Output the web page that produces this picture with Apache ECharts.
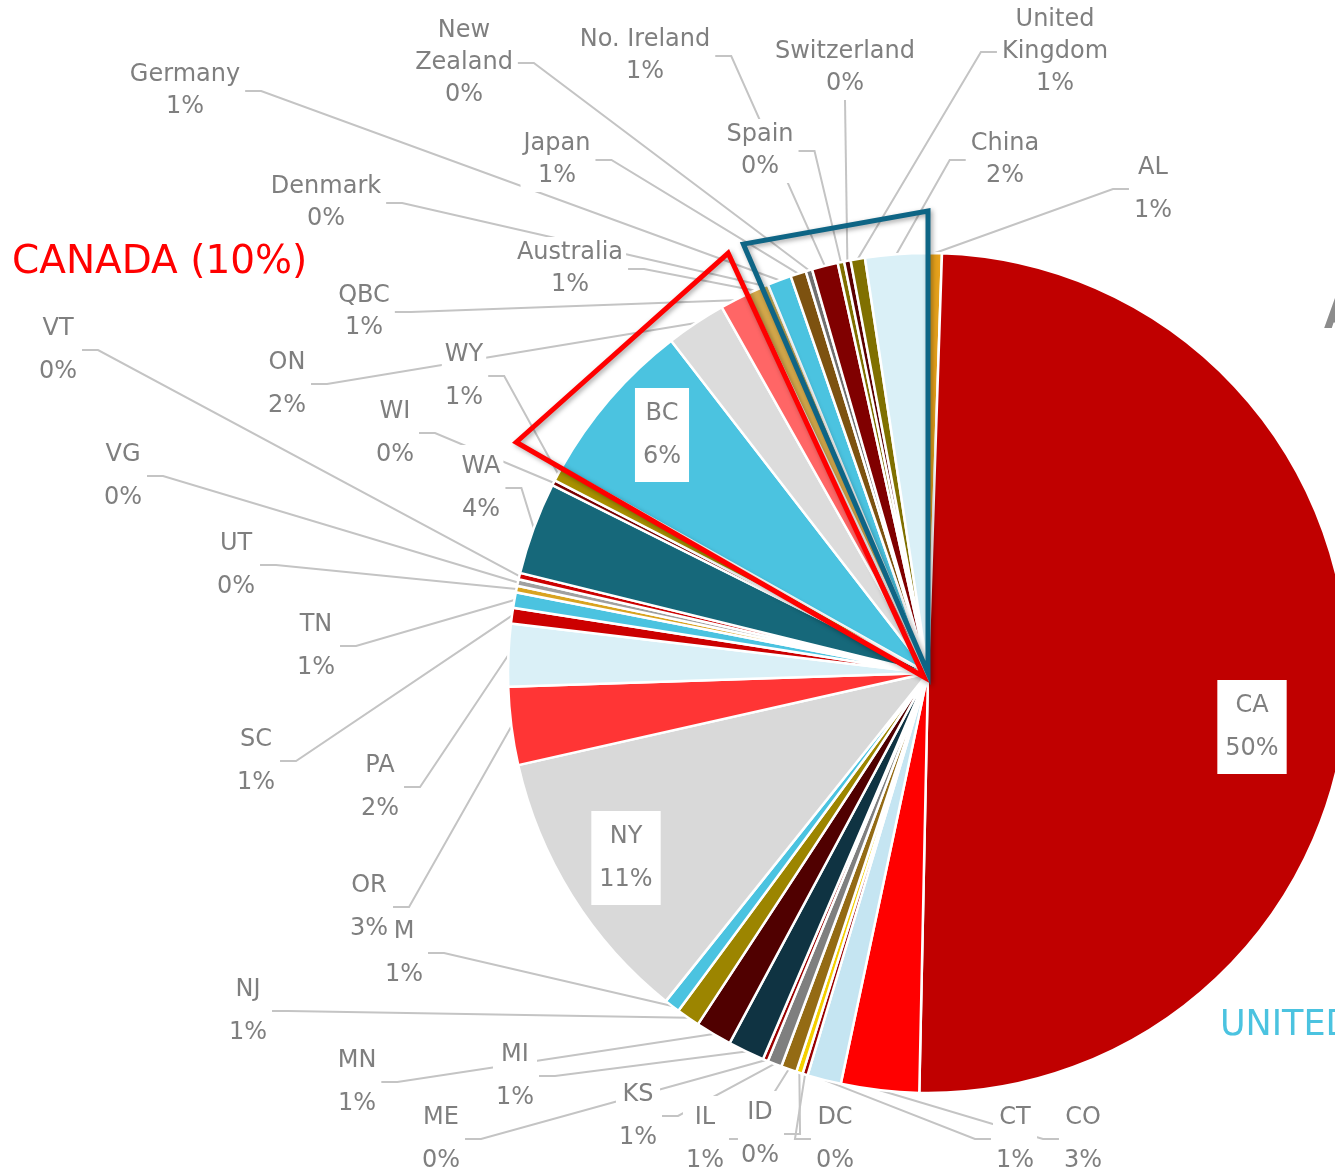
<!DOCTYPE html>
<html>
<head>
<meta charset="utf-8">
<style>
  html, body { margin: 0; padding: 0; background: #fff; }
  #chart { width: 1335px; height: 1173px; }
</style>
<script src="https://cdn.jsdelivr.net/npm/echarts@6/dist/echarts.min.js"></script>
</head>
<body>
<div id="chart"></div>
<script>
// slice order, clockwise from 12 o'clock
const regions = [
  'AL', 'CA', 'CO', 'CT', 'DC', 'ID', 'IL', 'KS', 'ME', 'MI', 'MN', 'NJ', 'M', 'NY',
  'OR', 'PA', 'SC', 'TN', 'UT', 'VG', 'VT', 'WA', 'WI', 'WY',
  'BC', 'ON', 'QBC',
  'Australia', 'Denmark', 'Germany', 'Japan', 'New Zealand', 'No. Ireland',
  'Spain', 'Switzerland', 'United Kingdom', 'China'
]
// share of total (%)
const shares = [
  0.53, 49.8, 3.0, 1.3, 0.2, 0.25, 0.6, 0.55, 0.2, 1.4, 1.4, 0.9, 0.6, 10.75,
  3.0, 2.4, 0.6, 0.6, 0.25, 0.25, 0.25, 3.55, 0.2, 0.55,
  6.4, 2.3, 1.1,
  0.6, 0.25, 0.92, 0.6, 0.25, 1.0,
  0.25, 0.25, 0.55, 2.4
]
const canadaGroup = ['BC', 'ON', 'QBC']
const intlGroup = ['Denmark', 'Germany', 'Japan', 'New Zealand', 'No. Ireland',
  'Spain', 'Switzerland', 'United Kingdom', 'China']

// --- styling / layout ---
const sliceColors = [
  '#E5A11C', '#C00000', '#FF0000', '#C5E5F2', '#990000', '#F5D000', '#946B14', '#7F7F7F', '#990000', '#0F3342', '#500000', '#9C8500', '#4BC3E0', '#D9D9D9',
  '#FF3535', '#DAF0F7', '#CC0000', '#4BC3E0', '#D9A320', '#A0A0A0', '#CC0000', '#16687A', '#7B0000', '#A89000',
  '#4BC3E0', '#DCDCDC', '#FF6666',
  '#D4A84B', '#C9B25A', '#4BC3E0', '#7D5210', '#6F6F6F', '#800000',
  '#7F6F00', '#5A0000', '#807000', '#DAF0F7'
]
const CX = 928, CY = 673, R = 420
const insideNames = ['CA', 'NY', 'BC']
const tightNames = ['QBC', 'Australia', 'Denmark', 'Germany', 'Japan', 'New Zealand',
  'No. Ireland', 'Spain', 'Switzerland', 'United Kingdom', 'China']
const wrapNames = ['New Zealand', 'United Kingdom']
// label block centres (Excel placed these by hand)
const labelPos = [
  [1153, 189], [1252, 727], [1083, 1139], [1015, 1139], [835, 1139], [760, 1134], [705, 1139],
  [638, 1116], [441, 1139], [515, 1076], [357, 1082], [248, 1011], [404, 953], [626, 858],
  [369, 907], [380, 787], [256, 761], [316, 646], [236, 565], [123, 476], [58, 350],
  [481, 488], [395, 433], [464, 376],
  [662, 435], [287, 384], [364, 312],
  [570, 269], [326, 203], [185, 91], [557, 160], [464, 63], [645, 56],
  [760, 151], [845, 68], [1055, 52], [1005, 160]
]

const total = shares.reduce((a, b) => a + b, 0)
const startOf = name => {
  let s = 0
  for (let i = 0; i < regions.indexOf(name); i++) s += shares[i]
  return s / total * 360
}
const endOf = name => startOf(name) + shares[regions.indexOf(name)] / total * 360
const polar = (deg, r) => {
  const a = deg * Math.PI / 180
  return [CX + r * Math.sin(a), CY - r * Math.cos(a)]
}

const seriesData = regions.map((name, i) => {
  const item = { name, value: shares[i], itemStyle: { color: sliceColors[i] } }
  if (insideNames.includes(name)) {
    item.label = { padding: [4, 8] }
    item.labelLine = { show: false }
  }
  if (tightNames.includes(name)) {
    item.label = Object.assign(item.label || {}, { lineHeight: 32 })
  }
  return item
})

const chart = echarts.init(document.getElementById('chart'))
chart.setOption({
  animation: false,
  series: [{
    type: 'pie',
    center: [CX, CY],
    radius: R,
    startAngle: 90,
    clockwise: true,
    avoidLabelOverlap: false,
    data: seriesData,
    itemStyle: { borderColor: '#fff', borderWidth: 2.5 },
    label: {
      position: 'outside',
      color: '#7F7F7F',
      fontSize: 24,
      fontFamily: 'DejaVu Sans',
      lineHeight: 43,
      align: 'center',
      backgroundColor: '#fff',
      padding: [0, 3],
      formatter: p => {
        const nm = wrapNames.includes(p.name) ? p.name.replace(' ', '\n') : p.name
        return nm + '\n' + Math.round(p.percent) + '%'
      }
    },
    labelLine: {
      show: true,
      length: 10,
      length2: 10,
      lineStyle: { color: '#C4C4C4', width: 2 }
    },
    labelLayout: p => {
      const pos = labelPos[p.dataIndex]
      const w = p.labelRect.width, h = p.labelRect.height
      const res = { x: pos[0], y: pos[1], align: 'center', verticalAlign: 'middle' }
      const pts = p.labelLinePoints
      if (pts && !insideNames.includes(regions[p.dataIndex])) {
        const edge = pts[0]
        let end, elbow
        if (edge[0] >= pos[0] - w / 2 && edge[0] <= pos[0] + w / 2) {
          end = [pos[0], edge[1] > pos[1] ? pos[1] + h / 2 : pos[1] - h / 2]
          elbow = end
        } else if (edge[0] > pos[0]) {
          end = [pos[0] + w / 2 + 2, pos[1]]
          elbow = [end[0] + 16, end[1]]
        } else {
          end = [pos[0] - w / 2 - 2, pos[1]]
          elbow = [end[0] - 16, end[1]]
        }
        res.labelLinePoints = [edge, elbow, end]
      }
      return res
    }
  }],
  graphic: [
    {
      type: 'polygon', z: 100,
      shape: { points: [[CX - 4, CY + 4], polar(startOf(canadaGroup[0]), 472), polar(endOf(canadaGroup[2]), 465)] },
      style: { fill: null, stroke: '#FF0000', lineWidth: 5, lineJoin: 'miter',
        shadowBlur: 5, shadowColor: 'rgba(0,0,0,0.35)', shadowOffsetX: 2, shadowOffsetY: 2 }
    },
    {
      type: 'polygon', z: 101,
      shape: { points: [[CX, CY], polar(startOf(intlGroup[0]), 467), polar(360, 462)] },
      style: { fill: null, stroke: '#0E6585', lineWidth: 5, lineJoin: 'miter',
        shadowBlur: 5, shadowColor: 'rgba(0,0,0,0.35)', shadowOffsetX: 2, shadowOffsetY: 2 }
    },
    {
      type: 'text', z: 102,
      style: { text: 'CANADA (10%)', x: 12, y: 263, verticalAlign: 'middle',
        font: '39px "DejaVu Sans"', fill: '#FF0000' }
    },
    {
      type: 'text', z: 102,
      style: { text: 'UNITED', x: 1220, y: 1026, verticalAlign: 'middle',
        font: '35px "DejaVu Sans"', fill: '#4BC3E0' }
    },
    {
      type: 'text', z: 102,
      style: { text: 'A', x: 1324, y: 318, verticalAlign: 'middle',
        font: 'bold 40px "DejaVu Sans"', fill: '#8C8C8C' }
    }
  ]
})
</script>
</body>
</html>
